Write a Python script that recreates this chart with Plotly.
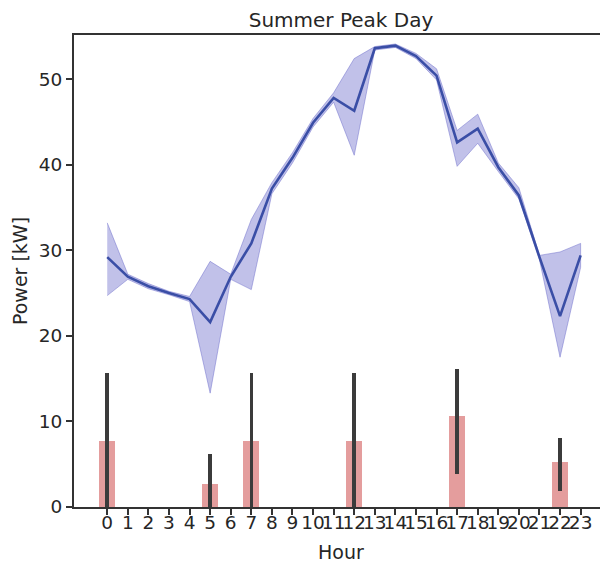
import plotly.graph_objects as go

hours = list(range(24))
mean_power = [29.2, 26.9, 25.8, 25.0, 24.3, 21.6, 26.9, 30.8, 37.2, 40.8, 44.9, 47.8,
              46.3, 53.6, 53.9, 52.7, 50.4, 42.6, 44.2, 39.7, 36.4, 29.2, 22.3, 29.4]
ci_low = [24.7, 26.6, 25.5, 24.8, 24.0, 13.3, 26.6, 25.4, 36.6, 40.2, 44.4, 47.3,
          41.1, 53.4, 53.7, 52.4, 49.9, 39.8, 42.5, 39.2, 36.0, 28.9, 17.5, 28.0]
ci_high = [33.2, 27.2, 26.1, 25.2, 24.6, 28.7, 27.2, 33.6, 37.9, 41.4, 45.4, 48.4,
           52.4, 53.8, 54.1, 53.0, 51.2, 44.0, 45.9, 40.2, 37.3, 29.4, 29.8, 30.8]

bar_hours = [0, 5, 7, 12, 17, 22]
bar_values = [7.7, 2.65, 7.7, 7.7, 10.65, 5.3]
bar_err_low = [0.0, 0.0, 0.0, 0.0, 3.85, 1.87]
bar_err_high = [15.6, 6.15, 15.6, 15.6, 16.1, 8.1]

fig = go.Figure()

fig.add_trace(go.Bar(
    x=bar_hours, y=bar_values, width=0.78,
    marker=dict(color="#e49d9d", line=dict(width=0)),
    error_y=dict(type="data", symmetric=False,
                 array=[h - v for h, v in zip(bar_err_high, bar_values)],
                 arrayminus=[v - l for v, l in zip(bar_values, bar_err_low)],
                 color="#3b3b3b", thickness=3.5, width=0),
    showlegend=False,
))

fig.add_trace(go.Scatter(
    x=hours + hours[::-1], y=ci_high + ci_low[::-1],
    fill="toself", fillcolor="rgba(100,100,200,0.40)",
    line=dict(color="rgba(100,100,200,0.45)", width=1),
    mode="lines", showlegend=False, hoverinfo="skip",
))

fig.add_trace(go.Scatter(
    x=hours, y=mean_power, mode="lines",
    line=dict(color="#3a4ea6", width=2.6),
    showlegend=False,
))

# page has an 8px body margin; figure is sized/margined to compensate
font = "DejaVu Sans, sans-serif"
fig.update_layout(
    width=600, height=554,
    margin=dict(l=66, r=0, t=27, b=55),
    paper_bgcolor="white", plot_bgcolor="white",
    font=dict(family=font, size=18.5, color="#262626"),
    title=dict(text="Summer Peak Day", x=0.5, xanchor="center", xref="paper",
               y=1 - 12 / 554, yref="container", yanchor="middle",
               font=dict(size=20, color="#262626")),
    bargap=0,
    annotations=[dict(text="Hour", xref="paper", yref="paper", x=0.5, y=0,
                      xanchor="center", yanchor="middle", yshift=-45,
                      showarrow=False, font=dict(size=19, color="#262626"))],
)
fig.update_xaxes(
    range=[-1.615, 24.33], tickmode="array", tickvals=hours,
    ticktext=[str(h) for h in hours], tickangle=0,
    ticks="outside", ticklen=6, tickwidth=1.5, tickcolor="#333",
    ticklabelstandoff=-8,
    showline=True, linecolor="#333", linewidth=2, mirror=True,
    showgrid=False, zeroline=False, automargin=False,
)
fig.update_yaxes(
    range=[0, 55.15], tickvals=[0, 10, 20, 30, 40, 50],
    ticks="outside", ticklen=6, tickwidth=1.5, tickcolor="#333",
    showline=True, linecolor="#333", linewidth=2, mirror=False,
    showgrid=False, zeroline=False, automargin=False,
    title=dict(text="Power [kW]", standoff=6, font=dict(size=19)),
)

fig.write_html("out.html")
